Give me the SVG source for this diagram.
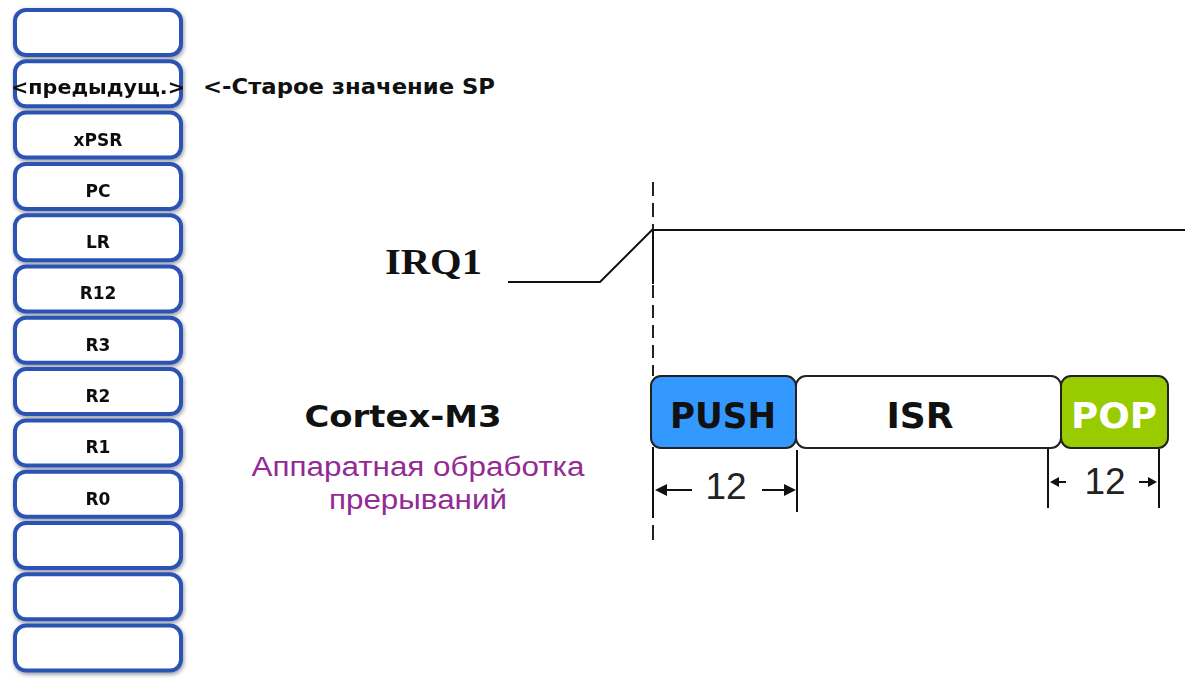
<svg xmlns="http://www.w3.org/2000/svg" width="1185" height="679" viewBox="0 0 1185 679">
<defs>
<filter id="sh" x="-10%" y="-20%" width="120%" height="150%"><feGaussianBlur in="SourceAlpha" stdDeviation="2"/><feOffset dx="1" dy="2"/><feComponentTransfer><feFuncA type="linear" slope="0.4"/></feComponentTransfer><feMerge><feMergeNode/><feMergeNode in="SourceGraphic"/></feMerge></filter>
</defs>
<style>
.cell{fill:#fff;stroke:#2a52b4;stroke-width:4}
.reg{font-family:"DejaVu Sans",Verdana,sans-serif;font-weight:bold;font-size:17px;fill:#111;text-anchor:middle}
.ln{stroke:#111;stroke-width:2;fill:none}
.blk{stroke:#222;stroke-width:2}
.bt{font-family:"DejaVu Sans",Verdana,sans-serif;font-weight:bold;font-size:36px;text-anchor:middle}
.num{font-family:"Liberation Sans",Arial,sans-serif;font-size:37px;fill:#222;text-anchor:middle}
.pur{font-family:"Liberation Sans",Arial,sans-serif;font-size:27px;fill:#922b94;text-anchor:middle}
</style>
<g id="stack" filter="url(#sh)">
<g id="s0"><rect class="cell" x="15" y="10" width="166" height="45" rx="11"/></g>
<g id="s1"><rect class="cell" x="15" y="61.3" width="166" height="45" rx="11"/><text class="reg" x="98" y="94" style="font-size:20px" textLength="174" lengthAdjust="spacingAndGlyphs">&lt;предыдущ.&gt;</text></g>
<g id="s2"><rect class="cell" x="15" y="112.6" width="166" height="45" rx="11"/><text class="reg" x="98" y="145.5">xPSR</text></g>
<g id="s3"><rect class="cell" x="15" y="163.9" width="166" height="45" rx="11"/><text class="reg" x="98" y="196.8">PC</text></g>
<g id="s4"><rect class="cell" x="15" y="215.2" width="166" height="45" rx="11"/><text class="reg" x="98" y="248.1">LR</text></g>
<g id="s5"><rect class="cell" x="15" y="266.5" width="166" height="45" rx="11"/><text class="reg" x="98" y="299.4">R12</text></g>
<g id="s6"><rect class="cell" x="15" y="317.8" width="166" height="45" rx="11"/><text class="reg" x="98" y="350.7">R3</text></g>
<g id="s7"><rect class="cell" x="15" y="369.1" width="166" height="45" rx="11"/><text class="reg" x="98" y="402">R2</text></g>
<g id="s8"><rect class="cell" x="15" y="420.4" width="166" height="45" rx="11"/><text class="reg" x="98" y="453.3">R1</text></g>
<g id="s9"><rect class="cell" x="15" y="471.7" width="166" height="45" rx="11"/><text class="reg" x="98" y="504.6">R0</text></g>
<g id="s10"><rect class="cell" x="15" y="523" width="166" height="45" rx="11"/></g>
<g id="s11"><rect class="cell" x="15" y="574.3" width="166" height="45" rx="11"/></g>
<g id="s12"><rect class="cell" x="15" y="625.6" width="166" height="45" rx="11"/></g>
</g>
<g id="oldsp"><text x="203" y="94" font-family="DejaVu Sans,Verdana,sans-serif" font-weight="bold" font-size="21" fill="#111" textLength="292" lengthAdjust="spacingAndGlyphs">&lt;-Старое значение SP</text></g>
<g id="irq">
<text x="385" y="274" font-family="Liberation Serif,serif" font-weight="bold" font-size="35" fill="#111" textLength="97" lengthAdjust="spacingAndGlyphs">IRQ1</text>
</g>
<g id="connectors">
<polyline class="ln" points="508,282 600,282 652,230 1185,230"/>
<line x1="653" y1="182" x2="653" y2="229" stroke="#222" stroke-width="2" stroke-dasharray="14,7"/>
<line class="ln" x1="653" y1="229" x2="653" y2="284"/>
<line x1="653" y1="285" x2="653" y2="376" stroke="#222" stroke-width="2" stroke-dasharray="13,7"/>
<line class="ln" x1="653" y1="447" x2="653" y2="518"/>
<line x1="653" y1="525" x2="653" y2="540" stroke="#222" stroke-width="2"/>
<line class="ln" x1="797" y1="450" x2="797" y2="512"/>
<line class="ln" x1="1048" y1="449" x2="1048" y2="508"/>
<line class="ln" x1="1159" y1="449" x2="1159" y2="508"/>
<line class="ln" x1="662" y1="490" x2="692" y2="490"/>
<polygon points="655,490 667,484 667,496" fill="#111"/>
<line class="ln" x1="762" y1="490" x2="788" y2="490"/>
<polygon points="796,490 784,484 784,496" fill="#111"/>
<line class="ln" x1="1054" y1="482" x2="1066" y2="482"/>
<polygon points="1050,482 1059,477 1059,487" fill="#111"/>
<line class="ln" x1="1139" y1="482" x2="1151" y2="482"/>
<polygon points="1157,482 1148,477 1148,487" fill="#111"/>
</g>
<g id="push"><rect x="651" y="376" width="145" height="72" rx="10" fill="#3399ff" class="blk"/><text class="bt" x="723" y="428" fill="#111" textLength="106" lengthAdjust="spacingAndGlyphs">PUSH</text></g>
<g id="isr"><rect x="796" y="376" width="265" height="72" rx="10" fill="#fff" class="blk"/><text class="bt" x="920" y="428" fill="#111">ISR</text></g>
<g id="pop"><rect x="1061" y="376" width="107" height="72" rx="10" fill="#99cc00" class="blk"/><text class="bt" x="1114" y="428" fill="#fff" textLength="86" lengthAdjust="spacingAndGlyphs">POP</text></g>
<text class="num" x="726" y="499">12</text>
<text class="num" x="1105" y="494">12</text>
<g id="cortex">
<text class="bt" x="403" y="427" fill="#111" style="font-size:30px" textLength="197" lengthAdjust="spacingAndGlyphs">Cortex-M3</text>
<text class="pur" x="418" y="476" textLength="333" lengthAdjust="spacingAndGlyphs">Аппаратная обработка</text>
<text class="pur" x="418" y="509" textLength="178" lengthAdjust="spacingAndGlyphs">прерываний</text>
</g>
</svg>
